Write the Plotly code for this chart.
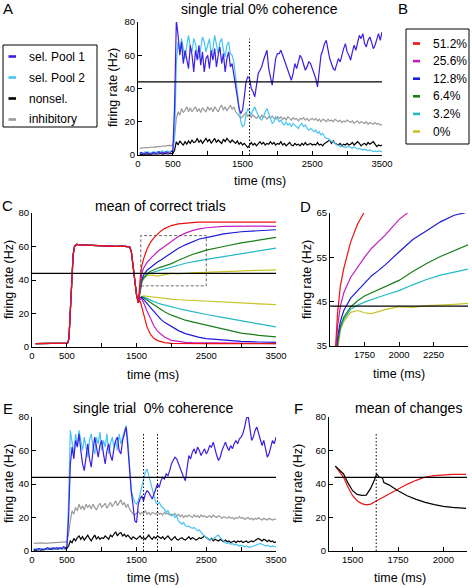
import plotly.graph_objects as go

W, H = 472, 588
FONT = "Liberation Sans, Arial, Helvetica, sans-serif"

# ---------------- data ----------------
T = list(range(25, 3501, 25))  # sample times for single trials (ms), 140 samples

A_pool1 = ([1, 1.5, 0.5, 1, 1.5, 1, 0.5, 1, 1.5, 1, 1, 2, 1, 1.5, 1, 2, 1.5, 1, 2, 2.5] +
           [30, 81, 72, 60, 68, 55, 63, 58, 52, 66, 60, 50, 63, 57, 66, 54, 62, 50, 58, 60] +
           [52, 63, 57, 64, 53, 60, 65, 55, 61, 50, 58, 62, 53, 55, 48, 42, 35, 28, 25, 27] +
           [35, 44, 47, 46, 40, 38, 35, 42, 49, 51, 53, 57, 60, 63, 52, 46, 42, 50, 58, 61] +
           [61, 63, 60, 56, 53, 50, 47, 45, 49, 55, 52, 57, 60, 58, 54, 51, 53, 56, 55, 52] +
           [50, 46, 41, 52, 60, 63, 67, 69, 62, 58, 55, 52, 51, 54, 58, 56, 61, 64, 67, 62] +
           [60, 57, 62, 66, 63, 68, 72, 70, 73, 67, 65, 69, 71, 68, 64, 66, 70, 73, 69, 74])
A_pool2 = ([1, 1.5, 1, 2, 1.5, 2, 1, 1.5, 2, 1.5, 2, 1.5, 2, 2.5, 1.5, 2, 2.5, 2, 2.5, 3] +
           [10, 55, 68, 62, 70, 64, 58, 66, 72, 65, 62, 70, 67, 60, 58, 64, 71, 68, 62, 66] +
           [70, 60, 64, 72, 66, 61, 68, 70, 63, 59, 66, 68, 61, 60, 56, 48, 38, 28, 20, 17] +
           [18, 24, 28, 26, 24, 27, 29, 26, 24, 22, 21, 23, 26, 28, 25, 22, 19, 20, 23, 22] +
           [20, 21, 19, 18, 20, 18, 19, 17, 19, 18, 17, 16, 18, 19, 17, 18, 16, 15, 16, 15] +
           [14, 15, 13, 14, 12, 13, 11, 10, 10, 9, 8, 8, 7, 6, 6, 5, 5.5, 5, 4.5, 5] +
           [5, 4.5, 4, 5, 4, 3.5, 4, 3.5, 3, 3.5, 3, 2.5, 3, 2.5, 2, 2.5, 2, 2.5, 2, 2])
A_nonsel = ([0.5, 0.3, 0.6, 0.4, 0.5, 0.7, 0.4, 0.6, 0.5, 0.8, 0.5, 0.6, 0.9, 0.5, 0.7, 0.9, 0.6, 0.8, 1, 1] +
            [3, 8, 6, 8.5, 7, 6, 8, 6.5, 8.5, 7, 9, 7.5, 8, 10, 7.5, 9, 7, 8.5, 10, 8] +
            [9.5, 7, 8.5, 10, 7.5, 9, 8, 7, 9.5, 8, 10, 8.5, 7.5, 9, 8, 7, 8.5, 6.5, 7.5, 6] +
            [7, 5.5, 4.5, 6, 7.5, 6, 7, 5.5, 7, 8, 6.5, 7.5, 6, 7, 6.5, 8, 6.5, 7.5, 6, 7] +
            [6.5, 8, 6, 7, 5.5, 6.5, 7.5, 6, 5.5, 7, 6, 6.5, 5.5, 7, 6, 7.5, 6, 6.5, 7, 6] +
            [6.5, 6, 7.5, 6, 6.5, 5.5, 7, 7.5, 8, 9, 7, 8.5, 7, 6.5, 6, 7, 5.5, 6.5, 6, 7] +
            [6, 6.5, 7.5, 6, 7, 8, 7, 5.5, 6.5, 7, 6, 7.5, 6.5, 7, 8, 6.5, 5, 6, 5.5, 6])
A_inhib = ([4, 4.2, 4, 4.5, 4.3, 4.6, 4.5, 4.8, 4.6, 5, 4.9, 5.2, 5, 5.4, 5.3, 5.6, 5.5, 5.8, 5.7, 6] +
           [12, 22, 26, 24, 28, 25.5, 27, 29, 26, 28.5, 26, 27.5, 29, 26, 28, 25.5, 28.5, 27, 26, 29] +
           [27, 28.5, 26, 29, 27.5, 26, 28.5, 30, 27, 29, 26.5, 28, 30, 27.5, 29, 26, 25, 23.5, 22, 23] +
           [24, 25.5, 23, 24.5, 22.5, 24, 23, 22, 23.5, 22, 24, 22.5, 23, 21.5, 23, 22, 23.5, 22, 21.5, 23] +
           [22, 23, 21.5, 22.5, 21, 23, 22, 21, 22.5, 21.5, 22, 20.5, 22, 21.5, 22.5, 21, 22, 20.5, 21.5, 22] +
           [21, 22, 20.5, 21.5, 20, 21.5, 21, 20, 21.5, 20.5, 21, 20, 21.5, 20.5, 20, 21, 19.5, 20.5, 20, 21] +
           [20, 19.5, 20.5, 19, 20, 20.5, 19, 20, 19.5, 19, 20, 18.5, 19.5, 19, 18.5, 19.5, 18.5, 19, 18, 18.5])

E_pool1 = ([1, 0.5, 1, 1.5, 1, 0.5, 1, 1.5, 2, 1.5, 1, 2, 1.5, 2, 1.5, 2, 1.5, 2.5, 2, 2] +
           [20, 52, 62, 55, 66, 62, 70, 60, 52, 48, 58, 64, 55, 50, 60, 68, 62, 56, 63, 66] +
           [58, 52, 60, 64, 57, 54, 61, 66, 68, 60, 58, 66, 70, 74, 62, 46, 35, 27, 18, 17] +
           [28, 31, 33, 30, 34, 36, 35, 33, 31, 34, 37, 40, 38, 42, 44, 43, 46, 45, 48, 52] +
           [54, 56, 55, 52, 49, 47, 44, 42, 50, 57, 55, 59, 61, 58, 62, 60, 57, 59, 61, 58] +
           [60, 63, 62, 65, 60, 57, 54, 56, 60, 63, 65, 62, 60, 63, 61, 64, 66, 64, 67, 68] +
           [70, 74, 79, 81, 72, 66, 68, 72, 74, 70, 66, 63, 66, 60, 56, 58, 63, 66, 64, 68])
E_pool2 = ([1, 1.5, 1, 0.5, 1, 1.5, 1, 1.5, 1, 1.5, 2, 1, 1.5, 1, 2, 1.5, 1, 1.5, 2, 2.5] +
           [30, 72, 65, 58, 70, 63, 72, 66, 60, 68, 62, 56, 66, 70, 62, 58, 68, 64, 71, 60] +
           [66, 62, 70, 58, 64, 68, 62, 66, 60, 70, 64, 68, 72, 75, 66, 48, 36, 32, 29, 28] +
           [30, 34, 38, 43, 47, 49, 45, 40, 36, 32, 29, 28, 29, 27, 26, 25, 23, 24, 22, 21] +
           [22, 20, 21, 18, 17, 16, 17, 15, 14.5, 15, 14, 13.5, 14, 13, 12, 12.5, 11, 10, 9, 8] +
           [7, 6.5, 7, 7.5, 8, 9, 9.5, 8, 7, 5.5, 5, 4.5, 5, 4, 4.5, 3.5, 4, 3.5, 3, 3.5] +
           [3, 2.5, 3, 2.5, 2, 2.5, 3, 3.5, 4, 4.5, 4.5, 4, 3.5, 3, 3.5, 3, 2.5, 3, 2.5, 2.5])
E_nonsel = ([0.5, 0.3, 0.6, 0.8, 0.5, 1, 0.7, 1.2, 0.8, 1, 1.3, 0.9, 1.5, 1, 1.3, 1.6, 1.2, 1.5, 1.3, 1.5] +
            [3, 6, 5, 7.5, 6, 8, 9, 7, 8.5, 6.5, 8, 9.5, 7.5, 6, 8, 9.5, 7, 8.5, 7, 8] +
            [7.5, 9, 8, 7, 9.5, 8.5, 10, 11.5, 9, 10.5, 11, 9, 10, 8.5, 9.5, 8, 7, 8.5, 7.5, 7] +
            [8, 9, 7.5, 8, 7, 8.5, 9.5, 8, 7, 8.5, 7.5, 9, 8, 7.5, 8.5, 7, 8, 9, 7.5, 6.5] +
            [7.5, 8.5, 7, 6.5, 7.5, 8, 7, 6.5, 7.5, 8.5, 7, 8, 7.5, 6.5, 7, 8, 7.5, 8.5, 9, 8] +
            [7, 6.5, 7.5, 6, 7, 6.5, 6, 7, 6, 5.5, 6.5, 5.5, 6, 5, 5.5, 6, 5, 6, 5.5, 6] +
            [5, 5.5, 6, 5, 5.5, 6, 5.5, 6.5, 7, 7.5, 6.5, 6, 7, 6.5, 5.5, 6.5, 5.5, 6, 5, 5.5])
E_inhib = ([4.5, 4.6, 4.4, 4.7, 4.5, 4.8, 4.6, 4.7, 4.9, 4.8, 5, 4.9, 5.1, 5, 5.2, 5.1, 5.3, 5.2, 5.4, 5.3] +
           [10, 18, 24, 22, 26, 24, 28, 25, 27, 24.5, 28, 26, 27.5, 25, 28, 26, 24.5, 27, 28.5, 26] +
           [27, 28.5, 25.5, 27, 29, 26.5, 28, 30, 27, 29, 30.5, 27.5, 29, 26, 28, 25, 23.5, 22, 21.5, 22.5] +
           [23.5, 22, 23, 22.5, 24, 22, 23, 21.5, 23, 22.5, 22, 23.5, 22, 22.5, 21.5, 23, 22, 22.5, 21.5, 22] +
           [21.5, 22.5, 21, 22, 20.5, 21.5, 20, 21, 20.5, 21.5, 21, 20, 21.5, 20.5, 21, 20, 21.5, 20.5, 21, 20] +
           [20.5, 21, 20, 21.5, 20.5, 20, 21, 20.5, 19.5, 20.5, 20, 19.5, 20.5, 19.5, 20, 19, 20, 19.5, 20.5, 19.5] +
           [20, 19, 19.5, 20, 19, 19.5, 18.5, 19.5, 19, 20, 19, 18.5, 19.5, 19, 18.5, 19.5, 19, 18.5, 19, 19])

POOL_NAMES = ["sel. Pool 1", "sel. Pool 2", "nonsel.", "inhibitory"]
POOL_COLORS = ["#3b1fe2", "#48c4f2", "#000000", "#9a9a9a"]

# mean of correct trials (panel C / D)
C_pre_t = [50, 200, 400, 510, 530, 550, 570, 590, 610, 640, 700, 800, 900, 1000, 1100,
           1200, 1300, 1400, 1425, 1450, 1475, 1500, 1525]
C_pre = [2, 2, 2.1, 2.3, 5, 20, 40, 55, 60, 61.3, 61, 60.8, 60.5, 60.6, 60.3,
         60.1, 60.2, 59.8, 57, 49, 39, 31, 26.5]
C_t = [1525, 1540, 1555, 1575, 1600, 1650, 1700, 1750, 1800, 1850, 1900, 2000, 2100,
       2200, 2300, 2400, 2500, 2750, 3000, 3250, 3500]
COH_LABELS = ["51.2%", "25.6%", "12.8%", "6.4%", "3.2%", "0%"]
COH_COLORS = ["#ee1111", "#c020c0", "#1c1cd8", "#1a7f1a", "#22b8c4", "#c8c428"]
C_up = [
    [26.5, 35, 42.5, 48.5, 52.5, 58.5, 62.5, 65.3, 67.5, 69.3, 70.7, 72.5, 73.5, 74, 74.3, 74.5, 74.5, 74.6, 74.8, 74.6, 74.5],
    [26.5, 33, 39.5, 44, 47, 50.5, 52.8, 55, 57, 58.5, 60, 63.5, 66, 68, 69.5, 70.5, 71.2, 72, 72.3, 72.2, 72],
    [26.5, 32, 37, 40.5, 43, 45.8, 47.5, 49.3, 50.8, 52, 53.3, 56.2, 59, 61, 63, 64.5, 65.3, 67.5, 68.8, 69.5, 70],
    [26.5, 31, 35.5, 39.5, 41.5, 43.8, 45.2, 46.3, 47, 47.7, 48.4, 49.8, 51.8, 53.6, 55.2, 56.5, 57.8, 60, 62.2, 63.8, 65.5],
    [26.5, 31, 35.5, 39, 41, 43.3, 44.2, 44.9, 45.5, 46, 46.5, 47.5, 48.8, 50, 51, 51.6, 52.3, 54, 55.8, 57.3, 59],
    [26.5, 30.5, 34.5, 38.5, 40.5, 42.6, 43, 42.5, 42.3, 42.8, 43.2, 43.9, 43.7, 44.1, 44.2, 44.4, 44.6, 45, 45.3, 45.8, 46],
]
C_low = [
    [26.5, 27.5, 27, 24, 19, 12, 7.5, 5, 3.8, 3, 2.6, 2.2, 2.1, 2, 2, 2, 2, 2, 2, 2, 2],
    [26.5, 28, 29, 28.5, 26.5, 21.5, 16.5, 12.5, 9.5, 7.5, 6, 4, 3.2, 2.8, 2.6, 2.5, 2.4, 2.3, 2.2, 2.1, 2],
    [26.5, 28, 29.5, 29.5, 28.5, 26, 23.5, 21, 18.5, 16.5, 14.7, 12, 9.8, 8, 6.8, 5.8, 5, 4, 3.4, 3, 2.8],
    [26.5, 28, 29.5, 30, 29.5, 28, 26.5, 25, 23.5, 22.3, 21, 19, 17.5, 16, 15, 14, 13, 10.5, 8.3, 7, 6],
    [26.5, 28, 29.5, 30, 29.8, 29, 28, 27, 26.3, 25.6, 25, 24, 23, 22, 21, 20.2, 19.4, 17.5, 15.5, 13.8, 12],
    [26.5, 28, 29.5, 30.2, 30.5, 30.3, 30, 29.7, 29.5, 29.2, 29, 28.6, 28.2, 28, 27.7, 27.5, 27.2, 26.7, 26.2, 25.7, 25.3],
]

# mean of changes (panel F)
F_black_t = [1405, 1425, 1450, 1475, 1500, 1525, 1550, 1575, 1600, 1620, 1632, 1645, 1665, 1672,
             1700, 1750, 1800, 1850, 1900, 1950, 2000, 2050, 2100, 2125]
F_black = [50.7, 48.5, 46, 40.5, 36, 33.8, 33.2, 33.4, 37.5, 42.4, 46, 44.3, 43.5, 40.8,
           39.5, 36, 33, 30.8, 29, 27.7, 26.6, 26, 25.6, 25.4]
F_red_t = [1405, 1425, 1450, 1475, 1500, 1525, 1550, 1575, 1600, 1625, 1650, 1700, 1750,
           1800, 1850, 1900, 1950, 2000, 2050, 2100, 2125]
F_red = [50.7, 48, 44, 38, 33, 30, 28.3, 27.5, 28, 29.5, 31, 33.5, 37, 39.8, 42.2, 44.2,
         45, 45.5, 45.8, 45.8, 45.8]

THRESH = 44
ticks_t = [0, 500, 1000, 1500, 2000, 2500, 3000, 3500]
ticks_t_txt = ["0", "500", "", "1500", "", "2500", "", "3500"]

for arr in (A_pool1, A_pool2, A_nonsel, A_inhib, E_pool1, E_pool2, E_nonsel, E_inhib):
    assert len(arr) == len(T), len(arr)

# ---------------- figure ----------------
fig = go.Figure()


def line(x, y, color, width, xa, ya):
    fig.add_trace(go.Scatter(x=x, y=y, mode="lines", line=dict(color=color, width=width),
                             xaxis=xa, yaxis=ya, showlegend=False, hoverinfo="skip"))


# Panel A
for vals, col in zip([A_inhib, A_nonsel, A_pool2, A_pool1], [POOL_COLORS[3], POOL_COLORS[2], POOL_COLORS[1], POOL_COLORS[0]]):
    line(T, vals, col, 1.2, "x", "y")
# Panel E
for vals, col in zip([E_inhib, E_nonsel, E_pool2, E_pool1], [POOL_COLORS[3], POOL_COLORS[2], POOL_COLORS[1], POOL_COLORS[0]]):
    line(T, vals, col, 1.2, "x4", "y4")
# Panels C and D
for i in reversed(range(len(COH_LABELS))):
    up_x = C_pre_t + C_t[1:]
    up_y = C_pre + C_up[i][1:]
    line(up_x, up_y, COH_COLORS[i], 1.2, "x2", "y2")
    line(C_t, C_low[i], COH_COLORS[i], 1.2, "x2", "y2")
    line(up_x, up_y, COH_COLORS[i], 1.2, "x3", "y3")
# Panel F
line(F_red_t, F_red, "#e51515", 1.2, "x5", "y5")
line(F_black_t, F_black, "#000000", 1.2, "x5", "y5")


def px(v):
    return v / W


def py(v):
    return 1 - v / H


def xax(l, r, rng, tv, tt, anchor):
    return dict(domain=[px(l), px(r)], range=rng, anchor=anchor, showline=True, linecolor="black",
                linewidth=1, ticks="inside", ticklen=4, tickwidth=1, tickcolor="black",
                tickvals=tv, ticktext=tt, showgrid=False, zeroline=False, automargin=False,
                tickfont=dict(size=9.5, color="black", family=FONT), fixedrange=True)


def yax(t, b, rng, tv, anchor):
    return dict(domain=[py(b), py(t)], range=rng, anchor=anchor, showline=True, linecolor="black",
                linewidth=1, ticks="inside", ticklen=4, tickwidth=1, tickcolor="black",
                tickvals=tv, showgrid=False, zeroline=False, automargin=False,
                tickfont=dict(size=9.5, color="black", family=FONT), fixedrange=True)


yt80 = [0, 20, 40, 60, 80]
fig.update_layout(
    template="none",
    width=W, height=H, margin=dict(l=0, r=0, t=0, b=0, pad=0), autosize=False,
    paper_bgcolor="white", plot_bgcolor="white", showlegend=False,
    font=dict(family=FONT, color="black"),
    xaxis=xax(138, 382, [0, 3500], ticks_t, ticks_t_txt, "y"),
    yaxis=yax(22, 155, [0, 80], yt80, "x"),
    xaxis2=xax(32, 276, [0, 3500], ticks_t, ticks_t_txt, "y2"),
    yaxis2=yax(213, 347, [0, 80], yt80, "x2"),
    xaxis3=xax(330, 468, [1500, 2500], [1750, 2000, 2250], ["1750", "2000", "2250"], "y3"),
    yaxis3=yax(213, 346, [35, 65], [35, 45, 55, 65], "x3"),
    xaxis4=xax(32, 276, [0, 3500], ticks_t, ticks_t_txt, "y4"),
    yaxis4=yax(417, 551, [0, 80], yt80, "x4"),
    xaxis5=xax(329, 467, [1370, 2130], [1500, 1750, 2000], ["1500", "1750", "2000"], "y5"),
    yaxis5=yax(417, 551, [0, 80], yt80, "x5"),
)

shapes = []


def seg(x0, y0, x1, y1, color="black", width=1.0, dash=None, xref="paper", yref="paper"):
    ln = dict(color=color, width=width)
    if dash:
        ln["dash"] = dash
    shapes.append(dict(type="line", xref=xref, yref=yref, x0=x0, x1=x1, y0=y0, y1=y1,
                       line=ln, layer="above"))


def hline(xa, ya, x0, x1, y):
    seg(x0, y, x1, y, width=1.2, xref=xa, yref=ya)


def vdot(xa, ya, x):
    seg(x, 0, x, 70, width=1, dash="1.5px,2px", xref=xa, yref=ya)


hline("x", "y", 0, 3500, THRESH)
hline("x2", "y2", 0, 3500, THRESH)
hline("x3", "y3", 1500, 2500, THRESH)
hline("x4", "y4", 0, 3500, THRESH)
hline("x5", "y5", 1400, 2130, THRESH)
vdot("x", "y", 1600)
vdot("x4", "y4", 1600)
vdot("x4", "y4", 1800)
vdot("x5", "y5", 1630)
shapes.append(dict(type="rect", xref="x2", yref="y2", x0=1560, x1=2500, y0=36.5, y1=66.5,
                   line=dict(color="#444444", width=0.8, dash="3px,2px")))

annotations = []


def text(x, y, s, size, angle=0, xanchor="center"):
    annotations.append(dict(x=px(x), y=py(y), xref="paper", yref="paper", text=s, showarrow=False,
                            font=dict(size=size, family=FONT, color="black"), textangle=angle,
                            xanchor=xanchor, yanchor="middle"))


def box(l, t, r, b):
    seg(px(l), py(t), px(r), py(t))
    seg(px(l), py(b), px(r), py(b))
    seg(px(l), py(t), px(l), py(b))
    seg(px(r), py(t), px(r), py(b))


# Legend A
box(3, 45, 97, 127)
for k, (nm, col) in enumerate(zip(POOL_NAMES, POOL_COLORS)):
    yy = 56.5 + k * 21
    seg(px(8.5), py(yy), px(16), py(yy), color=col, width=2.6)
    text(27, yy, nm, 12, xanchor="left")
# Legend B
box(406, 29, 469, 144)
for k, (nm, col) in enumerate(zip(COH_LABELS, COH_COLORS)):
    yy = 43.5 + k * 17.6
    seg(px(413), py(yy), px(420), py(yy), color=col, width=2.6)
    text(431, yy, nm, 12, xanchor="left")

# panel letters
text(8, 8.5, "A", 15)
text(403, 8.5, "B", 15)
text(7.5, 205, "C", 15)
text(305, 206, "D", 15)
text(7.5, 408, "E", 15)
text(298, 408, "F", 15)
# titles
text(259, 8.5, "single trial 0% coherence", 14)
text(160, 206, "mean of correct trials", 14)
text(153, 408, "single trial  0% coherence", 14)
text(408, 408, "mean of changes", 14)
# axis titles
text(260, 181, "time (ms)", 12.5)
text(153, 375, "time (ms)", 12.5)
text(399, 374, "time (ms)", 12.5)
text(153, 578, "time (ms)", 12.5)
text(400, 578, "time (ms)", 12.5)
text(113, 88, "firing rate (Hz)", 12.5, angle=-90)
text(9, 280, "firing rate (Hz)", 12.5, angle=-90)
text(307, 280, "firing rate (Hz)", 12.5, angle=-90)
text(9, 484, "firing rate (Hz)", 12.5, angle=-90)
text(298, 484, "firing rate (Hz)", 12.5, angle=-90)

fig.update_layout(shapes=shapes, annotations=annotations)
fig.write_html("out.html", config={"displayModeBar": False},
               post_script="document.body.style.margin='0';document.body.style.overflow='hidden';")
